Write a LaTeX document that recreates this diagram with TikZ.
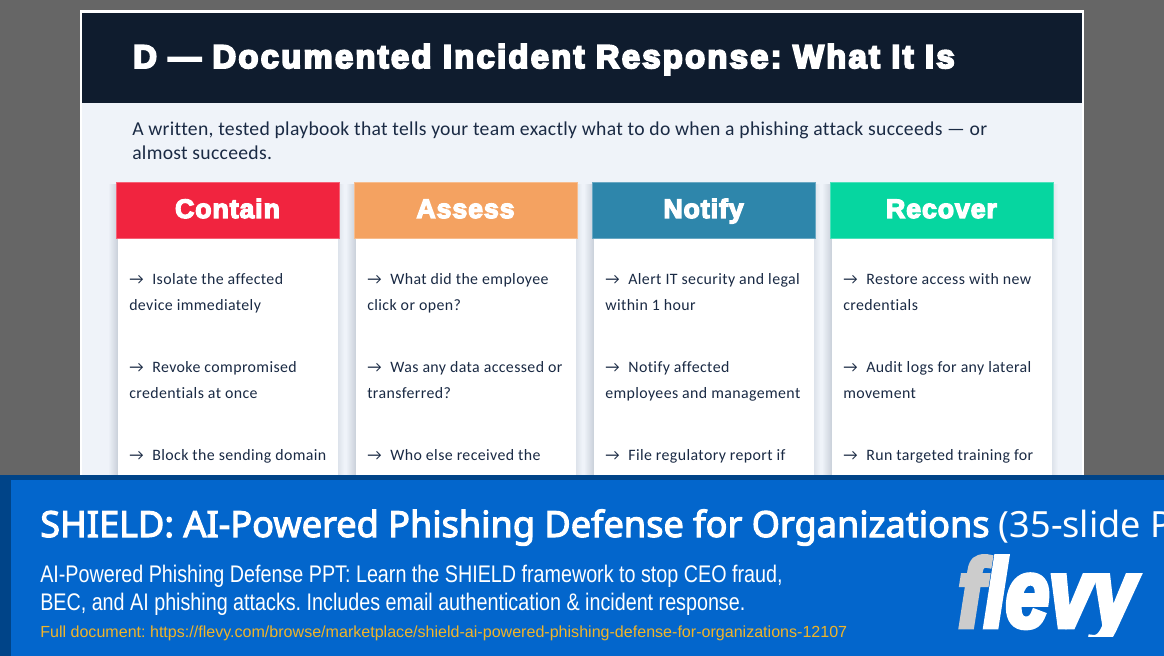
\documentclass[tikz,border=0pt]{standalone}
\usepackage{fontspec}
\setmainfont{Carlito}
\frenchspacing
\newfontfamily\titlefont[FakeBold=6,LetterSpace=6.9]{Liberation Sans Bold}
\newfontfamily\headfont[FakeBold=5,LetterSpace=3.5]{Liberation Sans Bold}
\newfontfamily\bodyfont[LetterSpace=2.5,Ligatures=NoCommon]{Carlito}
\newfontfamily\leadfont[LetterSpace=1.5,Ligatures=NoCommon]{Carlito}
\newfontfamily\bannerfont[FakeBold=3]{Noto Sans}
\newfontfamily\bannerlight{Noto Sans}
\newfontfamily\subfont[FakeStretch=0.822]{Liberation Sans}
\newfontfamily\urlfont{Liberation Sans}
\newfontfamily\logofont[FakeBold=5,FakeStretch=0.8]{Liberation Sans Bold Italic}
\definecolor{pagegray}{HTML}{666666}
\definecolor{headnavy}{HTML}{0F1C2E}
\definecolor{slidebg}{HTML}{EFF3F9}
\definecolor{shadowtone}{HTML}{C8CFD9}
\definecolor{inktext}{HTML}{1A2A44}
\definecolor{cred}{HTML}{F1243F}
\definecolor{corange}{HTML}{F4A261}
\definecolor{cblue}{HTML}{2E86AB}
\definecolor{cgreen}{HTML}{06D6A0}
\definecolor{bannerblue}{HTML}{0366CC}
\definecolor{bannerdark}{HTML}{004488}
\definecolor{urlgold}{HTML}{F0B429}
\definecolor{logogray}{HTML}{CCCCCC}
\tikzset{
  x=0.75pt,y=-0.75pt,
  cardline/.style={anchor=base west,inner sep=0pt,text=inktext,font=\bodyfont\fontsize{11.9}{13}\selectfont},
  leadline/.style={anchor=base west,inner sep=0pt,text=inktext,font=\leadfont\fontsize{14.74}{17}\selectfont},
  cardhead/.style={anchor=base,inner sep=0pt,text=white,font=\headfont\fontsize{20}{23}\selectfont},
}
\newcommand{\cardshape}[3]{%
  \shade[left color=slidebg,right color=shadowtone] (#1-8,185) rectangle (#1+2,700);
  \shade[left color=shadowtone!45!slidebg,right color=slidebg] (#1+222,185) rectangle (#1+228,700);
  \fill[white] (#1+1.5,238) rectangle (#1+222,700);
  \fill[#2,draw=#2!72!white,line width=0.6pt] (#1+0.2,182) rectangle (#1+223.4,238.2);
  \node[cardhead] (head#3) at (#1+111.5,218) {#3};
}
\begin{document}
\begin{tikzpicture}
\useasboundingbox (0,0) rectangle (1164,656);
\fill[pagegray] (0,0) rectangle (1164,656);
\fill[white] (80,10) rectangle (1084,656);
\fill[slidebg] (82,103) rectangle (1082,656);
\fill[headnavy] (82,13) rectangle (1082,103);
\node[anchor=base west,inner sep=0pt,text=white,font=\titlefont\fontsize{24.6}{30}\selectfont] (title) at (133,68) {D — Documented Incident Response: What It Is};
\node[leadline] (lead1) at (132,136) {A written, tested playbook that tells your team exactly what to do when a phishing attack succeeds — or};
\node[leadline] (lead2) at (132,160) {almost succeeds.};

\cardshape{116}{cred}{Contain}
\cardshape{354}{corange}{Assess}
\cardshape{592}{cblue}{Notify}
\cardshape{830}{cgreen}{Recover}

\node[cardline] (c1a) at (129,284) {→\hspace{0.55em}Isolate the affected};
\node[cardline] (c1b) at (129,310) {device immediately};
\node[cardline] (c1c) at (129,372) {→\hspace{0.55em}Revoke compromised};
\node[cardline] (c1d) at (129,398) {credentials at once};
\node[cardline] (c1e) at (129,460) {→\hspace{0.55em}Block the sending domain};

\node[cardline] (c2a) at (367,284) {→\hspace{0.55em}What did the employee};
\node[cardline] (c2b) at (367,310) {click or open?};
\node[cardline] (c2c) at (367,372) {→\hspace{0.55em}Was any data accessed or};
\node[cardline] (c2d) at (367,398) {transferred?};
\node[cardline] (c2e) at (367,460) {→\hspace{0.55em}Who else received the};

\node[cardline] (c3a) at (605,284) {→\hspace{0.55em}Alert IT security and legal};
\node[cardline] (c3b) at (605,310) {within 1 hour};
\node[cardline] (c3c) at (605,372) {→\hspace{0.55em}Notify affected};
\node[cardline] (c3d) at (605,398) {employees and management};
\node[cardline] (c3e) at (605,460) {→\hspace{0.55em}File regulatory report if};

\node[cardline] (c4a) at (843,284) {→\hspace{0.55em}Restore access with new};
\node[cardline] (c4b) at (843,310) {credentials};
\node[cardline] (c4c) at (843,372) {→\hspace{0.55em}Audit logs for any lateral};
\node[cardline] (c4d) at (843,398) {movement};
\node[cardline] (c4e) at (843,460) {→\hspace{0.55em}Run targeted training for};

\fill[bannerdark] (0,475) rectangle (1164,656);
\fill[bannerblue] (11,480) rectangle (1164,656);
\begin{scope}
\clip (0,0) rectangle (1164,656);
\node[anchor=base west,inner sep=0pt,text=white] (bannertitle) at (40,537) {\bannerfont\fontsize{27.07}{32}\selectfont SHIELD: AI-Powered Phishing Defense for Organizations\bannerlight\ (35-slide P};
\end{scope}
\node[anchor=base west,inner sep=0pt,text=white,font=\subfont\fontsize{18}{21}\selectfont] (sub1) at (40,582) {AI-Powered Phishing Defense PPT: Learn the SHIELD framework to stop CEO fraud,};
\node[anchor=base west,inner sep=0pt,text=white,font=\subfont\fontsize{18}{21}\selectfont] (sub2) at (40,610) {BEC, and AI phishing attacks. Includes email authentication \& incident response.};
\node[anchor=base west,inner sep=0pt,text=urlgold,font=\urlfont\fontsize{12.05}{15}\selectfont] (url) at (40,637) {Full document: https://flevy.com/browse/marketplace/shield-ai-powered-phishing-defense-for-organizations-12107};
\begin{scope}
\clip (940,545) rectangle (1164,636);
\node[anchor=base west,inner sep=0pt,text=white,font=\logofont\fontsize{73}{80}\selectfont] (logo) at (958,627) {\textcolor{logogray}{f}levy};
\end{scope}
\end{tikzpicture}
\end{document}
